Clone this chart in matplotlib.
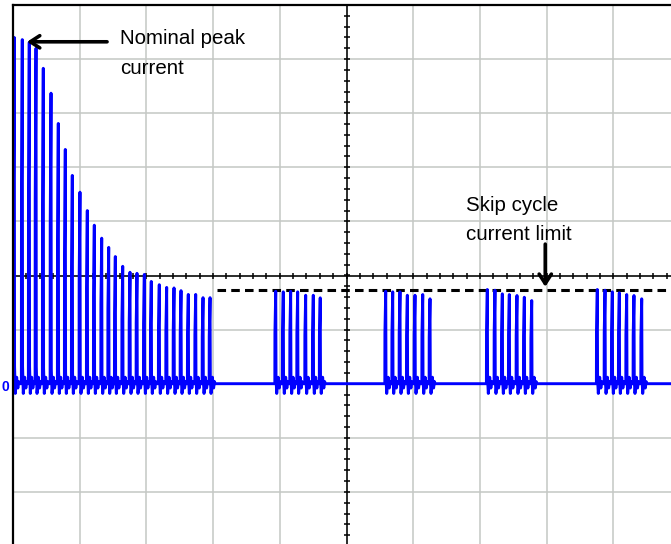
import matplotlib
matplotlib.use("Agg")
import matplotlib.pyplot as plt
import numpy as np

# ---- data (time in scope divisions, current in divisions above the zero level) ----
startup_t = [0.019, 0.139, 0.244, 0.345, 0.454, 0.570, 0.679, 0.784, 0.889, 1.004,
             1.114, 1.219, 1.330, 1.435, 1.534, 1.645, 1.754, 1.859, 1.969, 2.073,
             2.193, 2.304, 2.414, 2.519, 2.628, 2.739, 2.849, 2.954]
startup_peak = [6.40, 6.36, 6.31, 6.20, 5.83, 5.37, 4.81, 4.33, 3.85, 3.54,
                3.20, 2.93, 2.69, 2.52, 2.35, 2.17, 2.06, 2.04, 2.02, 1.89,
                1.83, 1.78, 1.77, 1.72, 1.65, 1.65, 1.59, 1.59]
burst1_t = [3.939, 4.052, 4.163, 4.268, 4.388, 4.502, 4.606]
burst1_peak = [1.709, 1.698, 1.709, 1.698, 1.635, 1.635, 1.587]
burst2_t = [5.588, 5.693, 5.802, 5.912, 6.027, 6.143, 6.252]
burst2_peak = [1.709, 1.698, 1.698, 1.635, 1.635, 1.648, 1.569]
burst3_t = [7.111, 7.226, 7.336, 7.441, 7.556, 7.666, 7.777]
burst3_peak = [1.741, 1.728, 1.661, 1.648, 1.630, 1.598, 1.537]
burst4_t = [8.760, 8.876, 8.985, 9.090, 9.201, 9.310, 9.426]
burst4_peak = [1.741, 1.728, 1.698, 1.680, 1.648, 1.630, 1.569]
skip_limit = 1.74          # skip-cycle current limit level
skip_limit_start = 3.06    # where the dashed limit line begins
nominal_peak_level = 6.32

# pulse shape template: (time offset in divisions, kind, value)
# kind 'f' = fraction of the pulse peak, 'a' = absolute ringing level
PX = 1 / 66.7
shape_dt = [-0.9 * PX, -0.8 * PX, 0.0, 0.3 * PX, 1.0 * PX, 1.8 * PX, 2.4 * PX,
            3.0 * PX, 3.6 * PX, 4.4 * PX, 5.2 * PX]
shape_kind = ['f', 'f', 'f', 'f', 'a', 'a', 'a', 'a', 'a', 'a', 'a']
shape_val = [0.0, 0.55, 1.0, 0.05, -0.18, 0.0, 0.12, 0.0, -0.08, 0.04, 0.0]

all_t = startup_t + burst1_t + burst2_t + burst3_t + burst4_t
all_p = startup_peak + burst1_peak + burst2_peak + burst3_peak + burst4_peak

tx, ty = [0.0], [0.0]
for i, (t0, pk) in enumerate(zip(all_t, all_p)):
    nxt = all_t[i + 1] + shape_dt[0] if i + 1 < len(all_t) else 1e9
    for dt, k, v in zip(shape_dt, shape_kind, shape_val):
        t = t0 + dt
        if t >= nxt:
            break
        tx.append(max(t, 0.0))
        ty.append(v * pk if k == 'f' else v)
tx.append(10.5)
ty.append(0.0)

# ---- figure ----
W, H = 671, 544
fig = plt.figure(figsize=(W / 100, H / 100), dpi=100)
ax = fig.add_axes([13 / W, (H - 546) / H, 667 / W, 541 / H])
ax.set_xlim(0, 10)
ax.set_ylim(-3, 7)

ax.set_xticks(np.arange(0, 11))
ax.set_yticks(np.arange(-3, 8))
ax.grid(True, color='#c4c8c4', lw=1.1, zorder=0)
ax.tick_params(length=0, labelbottom=False, labelleft=False)
for s in ['right', 'bottom']:
    ax.spines[s].set_visible(False)
for s in ['left', 'top']:
    ax.spines[s].set_linewidth(1.6)
    ax.spines[s].set_color('black')
    ax.spines[s].set_zorder(6)

# centre cross with minor ticks
ax.axhline(2, color='black', lw=1.1, zorder=2)
ax.axvline(5, color='black', lw=1.1, zorder=2)
mx = np.arange(0, 10.01, 0.2)
ax.plot(mx, np.full_like(mx, 2.0), ls='none', marker='|', ms=4.5, mew=1.1,
        color='black', zorder=2)
my = np.arange(-3, 7.01, 0.2)
ax.plot(np.full_like(my, 5.0), my, ls='none', marker='_', ms=4.5, mew=1.1,
        color='black', zorder=2)

# waveform
ax.plot(tx, ty, color='#0000ff', lw=2.1, zorder=4, solid_joinstyle='round')

# skip-cycle limit
ax.plot([skip_limit_start, 10.5], [skip_limit, skip_limit], color='black',
        lw=2.2, dashes=(2.8, 1.7), zorder=3)

# annotations
font = ['Liberation Sans', 'DejaVu Sans']
ax.annotate('', xy=(0.21, nominal_peak_level), xytext=(1.41, nominal_peak_level),
            arrowprops=dict(arrowstyle='->,head_length=0.34,head_width=0.22',
                            lw=2.6, color='black', shrinkA=0, shrinkB=0,
                            mutation_scale=20), zorder=5)
ax.text(1.604, 6.279, 'Nominal peak', fontsize=14.8, family=font, va='baseline',
        ha='left', zorder=5)
ax.text(1.604, 5.725, 'current', fontsize=14.8, family=font, va='baseline',
        ha='left', zorder=5)

ax.annotate('', xy=(7.98, 1.79), xytext=(7.98, 2.58),
            arrowprops=dict(arrowstyle='->,head_length=0.34,head_width=0.22',
                            lw=2.6, color='black', shrinkA=0, shrinkB=0,
                            mutation_scale=20), zorder=5)
ax.text(6.79, 3.198, 'Skip cycle', fontsize=14.8, family=font, va='baseline',
        ha='left', zorder=5)
ax.text(6.79, 2.656, 'current limit', fontsize=14.8, family=font, va='baseline',
        ha='left', zorder=5)

# channel zero marker
fig.text(2 / W, 1 - 387 / H, '0', color='#0000ff', fontsize=10, weight='bold',
         family=font, va='center', ha='left')

fig.savefig('out.png', dpi=100)
